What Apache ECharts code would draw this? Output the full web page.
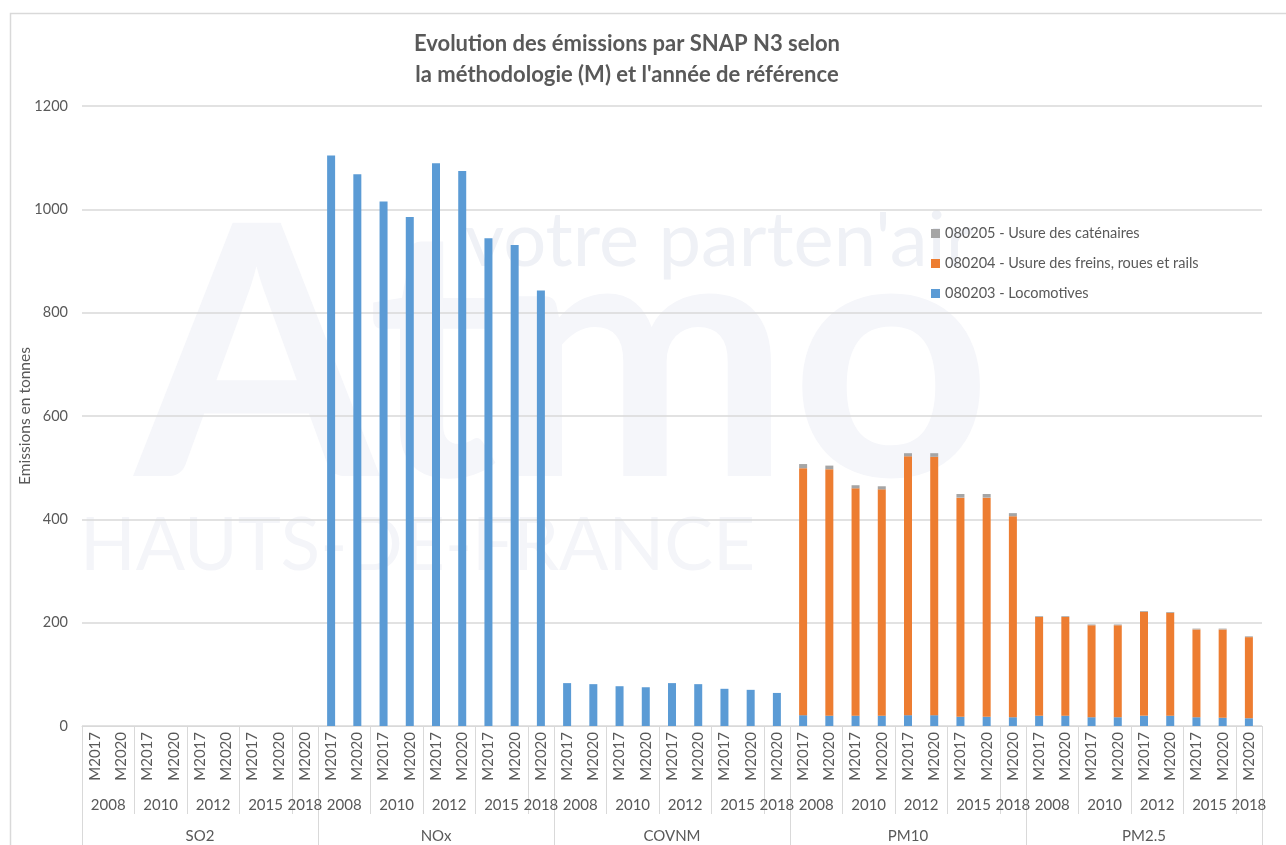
<!DOCTYPE html>
<html>
<head>
<meta charset="utf-8">
<script src="https://cdn.jsdelivr.net/npm/echarts@6/dist/echarts.min.js"></script>
<style>html,body{margin:0;padding:0;background:#fff}#c{width:1286px;height:845px}</style>
</head>
<body>
<div id="c"></div>
<script>
var pollutants = ['SO2', 'NOx', 'COVNM', 'PM10', 'PM2.5'];
var years = ['2008', '2010', '2012', '2015', '2018'];
var yearSizes = [2, 2, 2, 2, 1];
var methods = ['M2017', 'M2020', 'M2017', 'M2020', 'M2017', 'M2020', 'M2017', 'M2020', 'M2020'];

var seriesNames = ['080203 - Locomotives', '080204 - Usure des freins, roues et rails', '080205 - Usure des caténaires'];

var locomotives = [
  0, 0, 0, 0, 0, 0, 0, 0, 0,
  1104, 1068, 1015, 985, 1089, 1074, 944, 931, 843,
  83, 81, 77, 75, 83, 81, 72, 70, 64,
  21, 20, 20, 20, 21, 21, 18, 18, 17,
  20, 20, 17, 17, 20, 20, 17, 16, 15
];
var freins = [
  0, 0, 0, 0, 0, 0, 0, 0, 0,
  0, 0, 0, 0, 0, 0, 0, 0, 0,
  0, 0, 0, 0, 0, 0, 0, 0, 0,
  478, 477, 440, 438, 501, 500, 424, 424, 389,
  191, 191, 178, 178, 201, 199, 170, 171, 157
];
var catenaires = [
  0, 0, 0, 0, 0, 0, 0, 0, 0,
  0, 0, 0, 0, 0, 0, 0, 0, 0,
  0, 0, 0, 0, 0, 0, 0, 0, 0,
  8, 7, 6, 6, 6, 7, 7, 7, 6,
  1.5, 1.5, 1.5, 1.5, 1.5, 1.5, 1.5, 1.5, 1.5
];

var yTicks = { min: 0, max: 1200, interval: 200 };

// ---- build axis data ----
var cats = [];
pollutants.forEach(function (p) { methods.forEach(function (m) { cats.push(m); }); });
var perPoll = methods.length; // 9
var nHalf = pollutants.length * perPoll * 2 + 1; // 91 half-step slots
var yearLabelAt = {}, yearTickAt = {}, pollLabelAt = {}, pollTickAt = {};
pollutants.forEach(function (p, pi) {
  var base = pi * perPoll * 2;
  var c = 0;
  yearTickAt[base] = true;
  pollTickAt[base] = true;
  years.forEach(function (y, yi) {
    var s = yearSizes[yi];
    yearLabelAt[base + c * 2 + s] = y;
    c += s;
    yearTickAt[base + c * 2] = true;
  });
  pollLabelAt[base + perPoll] = p;
  pollTickAt[base + perPoll * 2] = true;
});
var yearAxisData = [], pollAxisData = [];
for (var i = 0; i < nHalf; i++) {
  yearAxisData.push(yearLabelAt[i] || '');
  pollAxisData.push(pollLabelAt[i] || '');
}

var txt = '#595959';
var lineC = '#d9d9d9';
var fontF = 'Lato, "Open Sans", sans-serif';

var chart = echarts.init(document.getElementById('c'));
chart.setOption({
  backgroundColor: '#fff',
  animation: false,
  textStyle: { fontFamily: fontF },
  graphic: [
    { type: 'rect', shape: { x: 10.5, y: 13.5, width: 1300, height: 900 }, style: { fill: 'none', stroke: lineC, lineWidth: 1.5 }, silent: true, z: -10 },
    { type: 'text', left: 135, top: 188, silent: true, z: -5, style: { text: 'Atmo', font: 'bold 350px Lato, sans-serif', fill: '#f5f6fa' } },
    { type: 'text', left: 465, top: 203, silent: true, z: -4, style: { text: "votre parten'air", font: '76px Lato, sans-serif', fill: '#eff1f6' } },
    { type: 'text', left: 80, top: 510, silent: true, z: -4, style: { text: 'HAUTS-DE-FRANCE', font: '73px Lato, sans-serif', fill: '#f4f5f9' } }
  ],
  title: {
    text: 'Evolution des émissions par SNAP N3 selon\nla méthodologie (M) et l\'année de référence',
    left: 622,
    textAlign: 'center',
    top: 23,
    textStyle: { fontFamily: fontF, fontSize: 22, fontWeight: 'bold', color: txt, lineHeight: 31 }
  },
  legend: {
    orient: 'vertical',
    left: 926,
    top: 221,
    itemWidth: 9,
    itemHeight: 9,
    itemGap: 15,
    icon: 'rect',
    data: [seriesNames[2], seriesNames[1], seriesNames[0]],
    textStyle: { fontFamily: fontF, fontSize: 14.5, color: txt }
  },
  grid: { left: 82, right: 24, top: 106, bottom: 119, containLabel: false },
  xAxis: [
    {
      type: 'category', data: cats, position: 'bottom', offset: 0,
      axisLine: { show: true, lineStyle: { color: lineC, width: 1 } },
      axisTick: { show: false },
      axisLabel: { interval: 0, rotate: 90, margin: 6, fontFamily: fontF, fontSize: 15, color: txt }
    },
    {
      type: 'category', data: yearAxisData, boundaryGap: false, position: 'bottom', offset: 0,
      axisLine: { show: false },
      axisTick: { show: true, length: 88, lineStyle: { color: lineC }, interval: function (idx) { return !!yearTickAt[idx]; } },
      axisLabel: { interval: function (idx) { return !!yearLabelAt[idx]; }, margin: 72, fontFamily: fontF, fontSize: 15, color: txt }
    },
    {
      type: 'category', data: pollAxisData, boundaryGap: false, position: 'bottom', offset: 0,
      axisLine: { show: false },
      axisTick: { show: true, length: 122, lineStyle: { color: lineC }, interval: function (idx) { return !!pollTickAt[idx]; } },
      axisLabel: { interval: function (idx) { return !!pollLabelAt[idx]; }, margin: 103, fontFamily: fontF, fontSize: 15, color: txt }
    }
  ],
  yAxis: {
    type: 'value', min: yTicks.min, max: yTicks.max, interval: yTicks.interval,
    name: 'Emissions en tonnes', nameLocation: 'middle', nameRotate: 90, nameGap: 49,
    nameMoveOverlap: false,
    nameTextStyle: { fontFamily: fontF, fontSize: 15.5, color: txt },
    axisLine: { show: false }, axisTick: { show: false },
    axisLabel: { margin: 14, fontFamily: fontF, fontSize: 14.5, color: txt, formatter: function (v) { return String(v); } },
    splitLine: { lineStyle: { color: lineC, width: 1.5 } }
  },
  series: [
    { name: seriesNames[0], type: 'bar', stack: 'e', data: locomotives, barWidth: 8, itemStyle: { color: '#5B9BD5' } },
    { name: seriesNames[1], type: 'bar', stack: 'e', data: freins, barWidth: 8, itemStyle: { color: '#ED7D31' } },
    { name: seriesNames[2], type: 'bar', stack: 'e', data: catenaires, barWidth: 8, itemStyle: { color: '#A5A5A5' } }
  ]
});
</script>
</body>
</html>
